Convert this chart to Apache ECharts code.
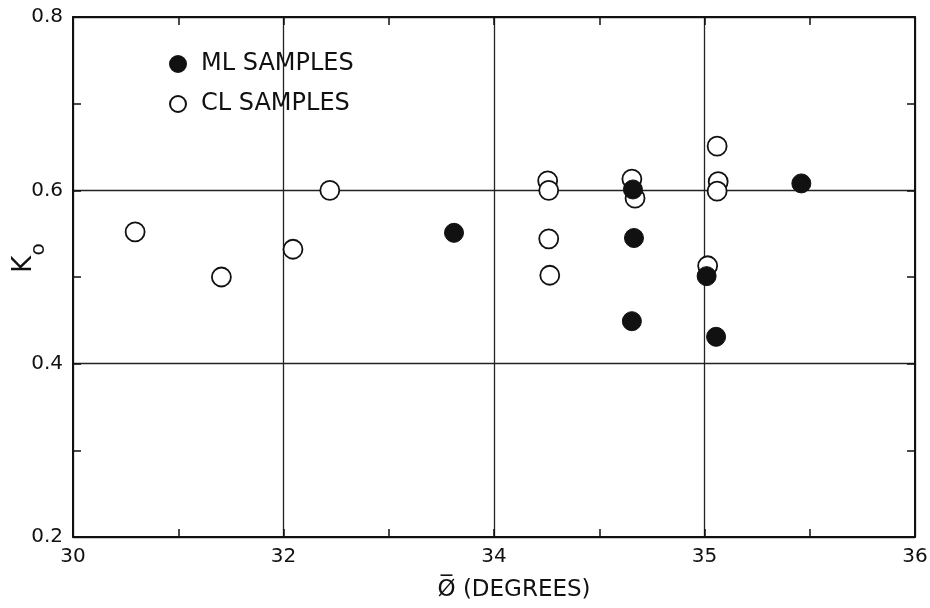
<!DOCTYPE html>
<html>
<head>
<meta charset="utf-8">
<title>Ko vs friction angle</title>
<script src="https://cdn.jsdelivr.net/npm/echarts@6.0.0/dist/echarts.min.js"></script>
<style>
  html, body { margin: 0; padding: 0; background: #fff; }
  #chart { width: 930px; height: 608px; }
</style>
</head>
<body>
<div id="chart"></div>
<script>
// x is kept in evenly spaced axis steps; the printed labels at 30,32,34,36,38 read 30,32,34,35,36
var xTickValues = [30, 32, 34, 36, 38];
var xTickLabels = ['30', '32', '34', '35', '36'];
var yTickValues = [0.2, 0.4, 0.6, 0.8];
var yTickLabels = ['0.2', '0.4', '0.6', '0.8'];

// ML samples (filled)
var mlX = [33.62, 35.32, 35.33, 35.31, 36.02, 36.11, 36.92];
var mlY = [0.551, 0.601, 0.545, 0.449, 0.501, 0.431, 0.608];

// CL samples (open)
var clX = [30.59, 31.41, 32.09, 32.44, 34.51, 34.52, 34.52, 34.53, 35.31, 35.34, 36.03, 36.12, 36.13, 36.12];
var clY = [0.552, 0.500, 0.532, 0.600, 0.611, 0.600, 0.544, 0.502, 0.613, 0.591, 0.513, 0.651, 0.610, 0.599];

var font = 'DejaVu Sans';
var ink = '#111';

function pairs(xs, ys) {
  var res = [];
  for (var i = 0; i < xs.length; i++) {
    res.push([xs[i], ys[i]]);
  }
  return res;
}

var chart = echarts.init(document.getElementById('chart'));

var lineStyle = { color: ink, width: 2 };
var tickStyle = { color: ink, width: 1.5 };
var gridStyle = { color: '#222', width: 1.3 };

var option = {
  animation: false,
  backgroundColor: '#fff',
  grid: {
    left: 73,
    right: 15,
    top: 17,
    bottom: 71,
    outerBoundsMode: 'none'
  },
  legend: {
    orient: 'vertical',
    left: 169,
    top: 52,
    padding: 0,
    itemWidth: 16,
    itemHeight: 16,
    itemGap: 16,
    data: ['ML SAMPLES', 'CL SAMPLES'],
    textStyle: {
      fontFamily: font,
      fontSize: 24,
      color: ink,
      padding: [0, 0, 0, 10]
    }
  },
  xAxis: [
    {
      type: 'value',
      position: 'bottom',
      min: 30,
      max: 38,
      interval: 2,
      axisLine: { lineStyle: lineStyle },
      axisTick: { inside: true, length: 8, lineStyle: tickStyle },
      minorTick: { show: true, splitNumber: 2, length: 8, lineStyle: tickStyle },
      splitLine: { show: true, lineStyle: gridStyle },
      axisLabel: {
        margin: 10,
        fontSize: 20,
        fontFamily: font,
        color: ink,
        formatter: function (v) {
          var i = xTickValues.indexOf(v);
          return i < 0 ? '' : xTickLabels[i];
        }
      },
      name: 'Ø\u0305 (DEGREES)',
      nameLocation: 'middle',
      nameMoveOverlap: false,
      nameGap: 42,
      nameTextStyle: {
        fontSize: 23,
        fontFamily: font,
        color: ink,
        padding: [0, 0, 0, 40]
      }
    },
    {
      type: 'value',
      position: 'top',
      min: 30,
      max: 38,
      interval: 2,
      axisLine: { lineStyle: lineStyle },
      axisTick: { inside: true, length: 8, lineStyle: tickStyle },
      minorTick: { show: true, splitNumber: 2, length: 8, lineStyle: tickStyle },
      splitLine: { show: false },
      axisLabel: { show: false }
    }
  ],
  yAxis: [
    {
      type: 'value',
      position: 'left',
      min: 0.2,
      max: 0.8,
      interval: 0.2,
      axisLine: { lineStyle: lineStyle },
      axisTick: { inside: true, length: 8, lineStyle: tickStyle },
      minorTick: { show: true, splitNumber: 2, length: 8, lineStyle: tickStyle },
      splitLine: { show: true, lineStyle: gridStyle },
      axisLabel: {
        margin: 10,
        fontSize: 20,
        fontFamily: font,
        color: ink,
        formatter: function (v) {
          for (var i = 0; i < yTickValues.length; i++) {
            if (Math.abs(yTickValues[i] - v) < 1e-6) return yTickLabels[i];
          }
          return '';
        }
      },
      name: '{k|K}{s|o}',
      nameLocation: 'middle',
      nameRotate: 90,
      nameMoveOverlap: false,
      nameGap: 24,
      nameTextStyle: {
        padding: [0, 0, 0, 38],
        rich: {
          k: { fontSize: 26, fontFamily: font, color: ink, verticalAlign: 'top', padding: [0, 0, 12, 0] },
          s: { fontSize: 20, fontFamily: font, color: ink, verticalAlign: 'bottom' }
        }
      }
    },
    {
      type: 'value',
      position: 'right',
      min: 0.2,
      max: 0.8,
      interval: 0.2,
      axisLine: { lineStyle: lineStyle },
      axisTick: { inside: true, length: 8, lineStyle: tickStyle },
      minorTick: { show: true, splitNumber: 2, length: 8, lineStyle: tickStyle },
      splitLine: { show: false },
      axisLabel: { show: false }
    }
  ],
  series: [
    {
      name: 'CL SAMPLES',
      type: 'scatter',
      symbol: 'circle',
      symbolSize: 19,
      data: pairs(clX, clY),
      itemStyle: { color: '#fff', borderColor: ink, borderWidth: 1.8, opacity: 1 },
      z: 3
    },
    {
      name: 'ML SAMPLES',
      type: 'scatter',
      symbol: 'circle',
      symbolSize: 19,
      data: pairs(mlX, mlY),
      itemStyle: { color: ink, borderColor: ink, borderWidth: 1, opacity: 1 },
      z: 4
    }
  ]
};

chart.setOption(option);
</script>
</body>
</html>
